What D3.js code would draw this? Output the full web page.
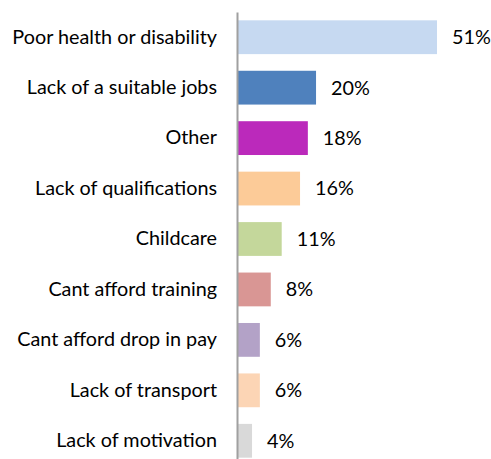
<!DOCTYPE html>
<html><head><meta charset="utf-8">
<script src="https://cdn.jsdelivr.net/npm/d3@7"></script>
<style>body{margin:0;background:#fff;}svg{display:block;}</style>
</head><body>
<svg id="chart" width="491" height="459"></svg>
<script>
const categories = ["Poor health or disability","Lack of a suitable jobs","Other","Lack of qualifications","Childcare","Cant afford training","Cant afford drop in pay","Lack of transport","Lack of motivation"];
const values = [51, 20, 17.9, 15.9, 11.2, 8.4, 5.6, 5.6, 3.6];
const labels = ["51%","20%","18%","16%","11%","8%","6%","6%","4%"];
const colors = ["#c6d9f1","#4f81bd","#bb29bb","#fccb98","#c4d79b","#d99694","#b3a2c7","#fcd5b5","#d9d9d9"];

const svg = d3.select("#chart");
const font = "Lato, 'Open Sans', sans-serif";
const fs = 19.8;
const x = d3.scaleLinear().domain([0, 51]).range([238, 437]);
const y = d3.scaleBand().domain(categories).range([12, 466]).paddingInner(0.33).paddingOuter(0.165);

svg.selectAll("rect.bar").data(categories).join("rect")
  .attr("class","bar")
  .attr("x", x(0))
  .attr("y", d => y(d))
  .attr("width", (d,i) => x(values[i]) - x(0))
  .attr("height", y.bandwidth())
  .attr("fill", (d,i) => colors[i]);

const axis = svg.append("g").attr("transform", "translate(237,0)")
  .call(d3.axisLeft(y).tickSize(0).tickPadding(20));
axis.select(".domain").attr("stroke","#a0a0a0").attr("stroke-width",2);
axis.selectAll("text").attr("font-family", font).attr("font-size", fs).attr("fill","#000");

svg.selectAll("text.val").data(categories).join("text")
  .attr("class","val")
  .attr("x", (d,i) => x(values[i]) + 15)
  .attr("y", d => y(d) + y.bandwidth()/2)
  .attr("dy","0.35em")
  .attr("font-family", font).attr("font-size", fs).attr("fill","#000")
  .text((d,i) => labels[i]);
</script>
</body></html>
